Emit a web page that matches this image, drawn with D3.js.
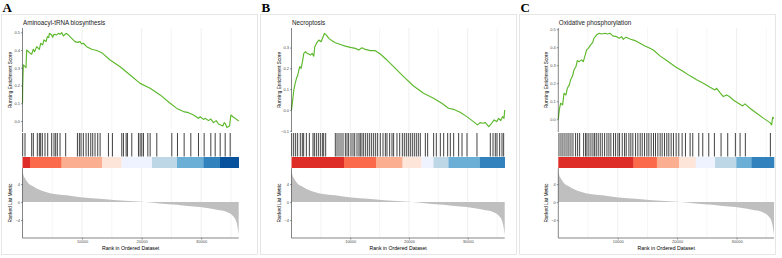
<!DOCTYPE html>
<html>
<head>
<meta charset="utf-8">
<script src="https://cdn.jsdelivr.net/npm/d3@7"></script>
<style>
body { margin: 0; background: white; }
text { font-family: "Liberation Sans", Arial, sans-serif; }
</style>
</head>
<body>
<div class="plot"></div>
<script>
// Ranked list length
var rankMax = 36300;

// Running enrichment score, [rank, score]
var esA = [[0,0.100],[30,0.194],[140,0.316],[420,0.306],[590,0.301],[700,0.400],[1260,0.382],[1540,0.376],
  [1820,0.404],[2040,0.391],[2380,0.419],[2830,0.404],[3050,0.438],[3390,0.429],[3610,0.457],[3950,0.447],
  [4170,0.476],[4400,0.470],[4510,0.494],[4900,0.485],[5070,0.472],[5290,0.489],[5740,0.485],[6020,0.494],
  [6300,0.489],[6580,0.498],[6860,0.479],[7310,0.494],[7700,0.485],[8260,0.466],[8820,0.447],[9220,0.443],
  [9660,0.447],[9940,0.434],[10220,0.438],[10780,0.419],[11620,0.404],[12460,0.397],[13300,0.385],
  [14710,0.344],[16390,0.306],[18070,0.259],[19750,0.212],[21430,0.184],[23110,0.147],[24790,0.100],
  [25910,0.071],[27030,0.053],[27870,0.047],[28710,0.034],[29550,0.015],[29830,0.024],[30390,0.009],
  [30670,0.015],[31230,0.002],[31620,0.011],[32070,-0.009],[32520,0.002],[32910,-0.017],[33640,-0.028],
  [33860,-0.009],[34090,-0.017],[34310,-0.036],[34760,-0.028],[34990,0.034],[35430,0.021],[35710,0.015],
  [36300,0.000]];
var esB = [[0,0.000],[170,0.040],[396,0.096],[623,0.128],[849,0.152],[1076,0.168],[1246,0.192],[1416,0.208],
  [1642,0.200],[1869,0.232],[2095,0.272],[2378,0.280],[2662,0.272],[2945,0.269],[3228,0.264],[3511,0.272],
  [3794,0.259],[3964,0.304],[4247,0.320],[4644,0.336],[5040,0.328],[5380,0.352],[5606,0.368],[5946,0.360],
  [6343,0.344],[6909,0.333],[7475,0.323],[8325,0.315],[9174,0.307],[10024,0.301],[10873,0.296],
  [11439,0.288],[12006,0.299],[12572,0.291],[13421,0.285],[14271,0.285],[15120,0.269],[16253,0.240],
  [17385,0.208],[19084,0.160],[20783,0.115],[22482,0.080],[24181,0.056],[25597,0.032],[26729,0.008],
  [27579,0.003],[28711,-0.011],[29844,-0.032],[30977,-0.056],[31656,-0.072],[32109,-0.061],[32562,-0.064],
  [33015,-0.061],[33581,-0.080],[34091,-0.064],[34487,-0.048],[34940,-0.056],[35280,-0.040],[35620,-0.051],
  [35960,-0.032],[36187,-0.040],[36300,0.000]];
var esC = [[0,0.000],[168,0.052],[393,0.089],[729,0.080],[954,0.144],[1290,0.135],[1515,0.172],[1851,0.191],
  [2076,0.219],[2412,0.241],[2637,0.274],[2973,0.293],[3198,0.326],[3534,0.320],[3927,0.330],[4208,0.320],
  [4488,0.352],[4769,0.385],[5049,0.394],[5442,0.413],[5778,0.426],[6003,0.450],[6452,0.469],[6900,0.478],
  [7293,0.474],[7854,0.478],[8247,0.474],[8696,0.478],[9144,0.463],[9818,0.459],[10266,0.450],[10659,0.459],
  [10940,0.444],[11388,0.456],[12062,0.446],[12903,0.437],[13745,0.422],[14586,0.407],[15428,0.394],
  [15989,0.385],[17111,0.352],[18233,0.326],[19635,0.293],[21038,0.265],[22160,0.241],[23282,0.219],
  [24404,0.200],[25526,0.178],[26367,0.163],[26648,0.172],[27209,0.148],[27770,0.126],[28331,0.135],
  [28779,0.126],[29453,0.107],[30294,0.089],[31023,0.074],[31416,0.085],[32258,0.061],[33380,0.033],
  [34502,0.006],[35624,-0.019],[35904,-0.031],[36072,0.011],[36300,0.004]];

// Gene set hit positions (rank)
var hitsA = [30,420,1540,1820,2490,2830,3050,3330,3780,4230,4900,5290,5570,5850,6300,7250,9220,9550,9830,
  10220,10670,11060,11460,11790,12180,12630,13030,14430,15100,16670,16950,17400,17620,18350,19470,19750,
  20030,20310,21040,21430,22550,25070,26020,27140,28260,29550,30500,31620,32350,33190,34030,34870];
var hitsB = [30,370,710,1050,1500,1840,2070,2530,3040,3660,3890,4230,4570,4910,5250,5480,5820,7460,7750,
  8090,8430,8770,9170,9450,9730,10130,10470,10760,11150,11490,11720,12000,12290,12630,12970,13310,13650,
  13990,14330,14670,15120,15580,15980,16260,16710,17110,17390,17960,18420,18870,19210,19550,19890,20230,
  20570,20910,21250,21590,21930,22790,23180,24200,24660,25340,25910,26590,27040,27610,28460,29030,29880,
  31580,33850,34310,34700,34990,35440,35840,36120];
var hitsC = [110,450,780,1120,1460,1790,2130,2470,2910,3250,3590,4260,4590,4820,5150,5490,5830,6110,6390,
  6720,7060,7400,7790,8180,8520,8850,9300,9640,10030,10310,10760,11150,11430,11880,12210,12550,13000,
  13390,13780,14120,14510,14900,15240,15630,16020,16360,16750,17140,17480,17870,18260,18600,18990,19380,
  19830,20280,20840,21400,22180,22630,23640,24310,25320,26270,27390,28510,29800,30590,31480,35690];

// Colour strip: bin edges (rank) and colours
var stripEdgesA = [0,1260,6550,13350,16620,21740,25940,30420,33160,36300];
var stripEdgesB = [0,8940,14390,18900,22130,24180,26730,32090,36300];
var stripEdgesC = [0,12650,16590,20330,23140,26380,29960,32520,36300];
var stripColors = ["#DE2D26","#FB6A4A","#FCAE91","#FEE5D9","#EFF3FF","#BDD7E7","#6BAED6","#3182BD","#08519C"];

// Ranked list metric, [rank, metric] (same ranked list for all panels)
var metric = [[0,7.2],[140,6.1],[420,5.3],[980,4.2],[1820,3.5],[2940,2.7],[4620,2.0],[7420,1.5],[10220,1.0],
  [13020,0.74],[15820,0.44],[20020,0.07],[23100,-0.3],[25900,-0.6],[28700,-1.0],[30940,-1.3],[32620,-1.7],
  [34300,-2.2],[35420,-3.2],[35980,-4.7],[36300,-7.3]];

// Tick labels
var xTicks = [10000, 20000, 30000];
var gridTicks = [5000, 10000, 15000, 20000, 25000, 30000, 35000];
var metricTicks = [-4, 0, 4];
var esTicksA = [0, 0.1, 0.2, 0.3, 0.4, 0.5];
var esTicksB = [-0.1, 0, 0.1, 0.2, 0.3];
var esTicksC = [0, 0.1, 0.2, 0.3, 0.4, 0.5];

var letters = ["A", "B", "C"];
var titles = ["Aminoacyl-tRNA biosynthesis", "Necroptosis", "Oxidative phosphorylation"];

// Layout
var outerWidth = 782, outerHeight = 258;
var lay = {esTop: 28, esBottom: 132, tickTop: 133, tickBottom: 156.5,
           stripTop: 157, stripBottom: 168, rankTop: 168, rankBottom: 238};

var panels = [
  {x0: 0,   left: 22.5,  right: 238.7, esDomain: [-0.062, 0.524], es: esA, hits: hitsA, edges: stripEdgesA, esTicks: esTicksA},
  {x0: 259, left: 291.5, right: 504.7, esDomain: [-0.106, 0.394], es: esB, hits: hitsB, edges: stripEdgesB, esTicks: esTicksB},
  {x0: 518, left: 558.3, right: 774,   esDomain: [-0.071, 0.507], es: esC, hits: hitsC, edges: stripEdgesC, esTicks: esTicksC}
];

var svg = d3.select(".plot")
    .append("svg")
    .attr("width", outerWidth)
    .attr("height", outerHeight);

svg.append("rect")
    .attr("width", "100%")
    .attr("height", "100%")
    .attr("fill", "white");

function drawPanel(p, i) {
    var x = d3.scaleLinear().domain([0, rankMax]).range([p.left, p.right]);
    var yES = d3.scaleLinear().domain(p.esDomain).range([lay.esBottom, lay.esTop]);
    var yM = d3.scaleLinear().domain([-8.0, 7.6]).range([lay.rankBottom, lay.rankTop]);

    var g = svg.append("g");

    // panel frame
    g.append("rect")
        .attr("x", p.x0 + 1.5)
        .attr("y", 14.5)
        .attr("width", 256)
        .attr("height", 240)
        .attr("fill", "none")
        .attr("stroke", "#e0e0e0")
        .attr("stroke-width", 0.8);

    // panel letter
    g.append("text")
        .attr("x", p.x0 + 2.5)
        .attr("y", 12)
        .style("font-family", "'Liberation Serif', 'Times New Roman', serif")
        .style("font-weight", "bold")
        .style("font-size", "13px")
        .text(letters[i]);

    // vertical grid lines in all three strips
    [[lay.esTop, lay.esBottom], [lay.tickTop, lay.stripTop], [lay.rankTop, lay.rankBottom]].forEach(function(r) {
        g.selectAll(null)
            .data(gridTicks)
            .enter().append("line")
            .attr("x1", d => x(d)).attr("x2", d => x(d))
            .attr("y1", r[0]).attr("y2", r[1])
            .attr("stroke", d => d % 10000 === 0 ? "#e4e4e4" : "#efefef")
            .attr("stroke-width", 0.6);
    });

    // title
    g.append("text")
        .attr("x", p.left + 0.5)
        .attr("y", 25)
        .style("font-size", "6.3px")
        .attr("fill", "#222")
        .text(titles[i]);

    // running enrichment score line
    g.append("path")
        .datum(p.es)
        .attr("d", d3.line().x(d => x(d[0])).y(d => yES(d[1])))
        .attr("fill", "none")
        .attr("stroke", "#5cb82b")
        .attr("stroke-width", 1.15)
        .attr("stroke-linejoin", "round");

    // ES axis
    var esAxis = g.append("g")
        .attr("transform", "translate(" + p.left + ",0)")
        .call(d3.axisLeft(yES).tickValues(p.esTicks).tickSize(1.5).tickPadding(1)
              .tickFormat(d3.format(".1f")));
    styleAxis(esAxis);
    esAxis.select(".domain").attr("d", "M0," + lay.esTop + "V" + lay.esBottom);

    g.append("text")
        .attr("transform", "translate(" + (p.left - 10.5) + "," + ((lay.esTop + lay.esBottom) / 2) + ") rotate(-90)")
        .attr("text-anchor", "middle")
        .style("font-size", "4.7px")
        .text("Running Enrichment Score");

    // gene hits
    g.selectAll(null)
        .data(p.hits)
        .enter().append("line")
        .attr("x1", d => x(d)).attr("x2", d => x(d))
        .attr("y1", lay.tickTop).attr("y2", lay.tickBottom)
        .attr("stroke", "#111")
        .attr("stroke-width", 0.8);

    // colour strip
    var bins = d3.range(p.edges.length - 1);
    g.selectAll(null)
        .data(bins)
        .enter().append("rect")
        .attr("x", d => x(p.edges[d]))
        .attr("width", d => x(p.edges[d + 1]) - x(p.edges[d]) + 0.3)
        .attr("y", lay.stripTop)
        .attr("height", lay.stripBottom - lay.stripTop)
        .attr("fill", d => stripColors[d]);

    // ranked list metric
    g.append("path")
        .datum(metric)
        .attr("d", d3.area().curve(d3.curveMonotoneX)
              .x(d => x(d[0])).y0(yM(0)).y1(d => yM(d[1])))
        .attr("fill", "#bfbfbf");

    var mAxis = g.append("g")
        .attr("transform", "translate(" + p.left + ",0)")
        .call(d3.axisLeft(yM).tickValues(metricTicks).tickSize(1.5).tickPadding(1));
    styleAxis(mAxis);
    mAxis.select(".domain").attr("d", "M0," + lay.rankTop + "V" + lay.rankBottom);

    var xAxis = g.append("g")
        .attr("transform", "translate(0," + lay.rankBottom + ")")
        .call(d3.axisBottom(x).tickValues(xTicks).tickSize(1.5).tickPadding(1).tickFormat(d3.format("d")));
    styleAxis(xAxis);
    xAxis.select(".domain").attr("d", "M" + p.left + ",0H" + p.right);

    g.append("text")
        .attr("transform", "translate(" + (p.left - 10.5) + "," + ((lay.rankTop + lay.rankBottom) / 2) + ") rotate(-90)")
        .attr("text-anchor", "middle")
        .style("font-size", "4.7px")
        .text("Ranked List Metric");

    g.append("text")
        .attr("x", (p.left + p.right) / 2)
        .attr("y", 249.5)
        .attr("text-anchor", "middle")
        .style("font-size", "5.2px")
        .text("Rank in Ordered Dataset");
}

function styleAxis(a) {
    a.select(".domain").attr("stroke", "#333").attr("stroke-width", 0.6);
    a.selectAll(".tick line").attr("stroke", "#333").attr("stroke-width", 0.5);
    a.selectAll(".tick text")
        .attr("fill", "#4d4d4d")
        .style("font-size", "4px")
        .style("font-family", "'Liberation Sans', Arial, sans-serif");
}

panels.forEach(drawPanel);
</script>
</body>
</html>
